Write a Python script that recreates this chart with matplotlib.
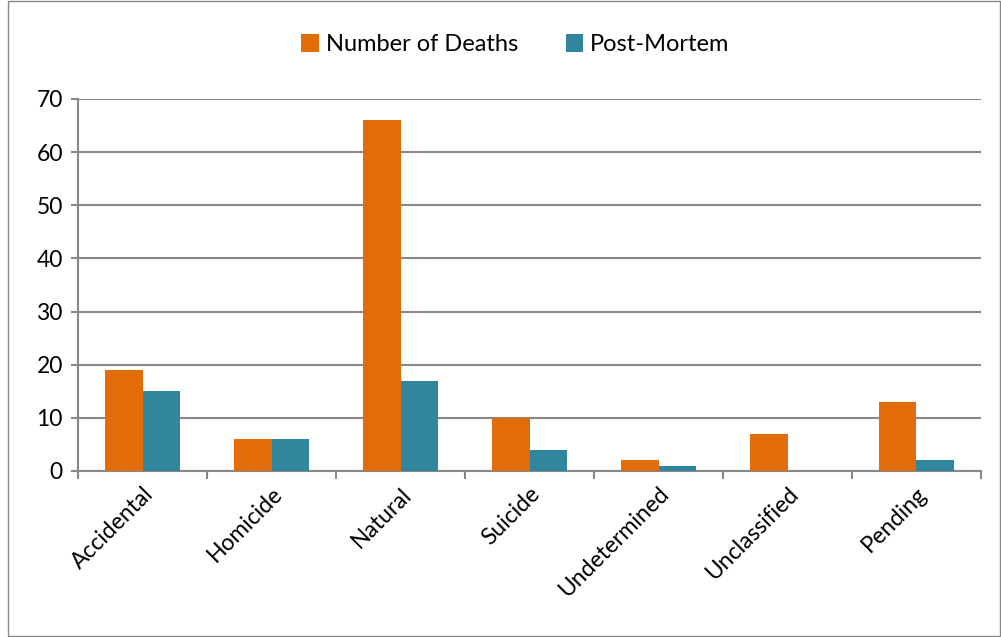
import numpy as np
from matplotlib import pyplot as plt
from matplotlib.patches import Rectangle

categories = ['Accidental', 'Homicide', 'Natural', 'Suicide', 'Undetermined', 'Unclassified', 'Pending']
deaths = [19, 6, 66, 10, 2, 7, 13]
post_mortem = [15, 6, 17, 4, 1, 0, 2]

plt.rcParams['font.family'] = ['Lato', 'DejaVu Sans']

fig = plt.figure(figsize=(10.01, 6.37), dpi=100)
ax = fig.add_axes([0.078, 0.2606, 0.902, 0.584])

x = np.arange(len(categories))
w = 0.29
ax.bar(x - w / 2, deaths, w, color='#E36C0A', label='Number of Deaths', zorder=3)
ax.bar(x + w / 2, post_mortem, w, color='#31859C', label='Post-Mortem', zorder=3)

ax.set_xlim(-0.5, len(categories) - 0.5)
ax.set_ylim(0, 70)
ax.set_yticks(range(0, 71, 10))
ax.yaxis.grid(True, color='#888888', linewidth=1.5, zorder=0)
ax.set_xticks(np.arange(-0.5, len(categories), 1))
ax.set_xticklabels([])
ax.set_xticks(x, minor=True)
ax.set_xticklabels(categories, minor=True, rotation=45, ha='right', rotation_mode='anchor', fontsize=16.5)
ax.tick_params(axis='x', which='minor', length=0, pad=9)
ax.tick_params(axis='x', which='major', length=6, width=1.5, color='#888888')
ax.tick_params(axis='y', length=5, width=1.5, color='#888888', labelsize=16.5, pad=6)
for s in ['top', 'right']:
    ax.spines[s].set_visible(False)
for s in ['left', 'bottom']:
    ax.spines[s].set_color('#888888')
    ax.spines[s].set_linewidth(1.5)

fig.legend(loc='center', bbox_to_anchor=(0.515, 0.93), ncol=2, frameon=False,
           fontsize=17, handlelength=0.75, handleheight=0.75, columnspacing=2.0, handletextpad=0.3)

fig.patches.append(Rectangle((0.008, 0.001), 0.991, 0.998, transform=fig.transFigure,
                             fill=False, edgecolor='#888888', linewidth=1))

fig.savefig('out.png', dpi=100)
